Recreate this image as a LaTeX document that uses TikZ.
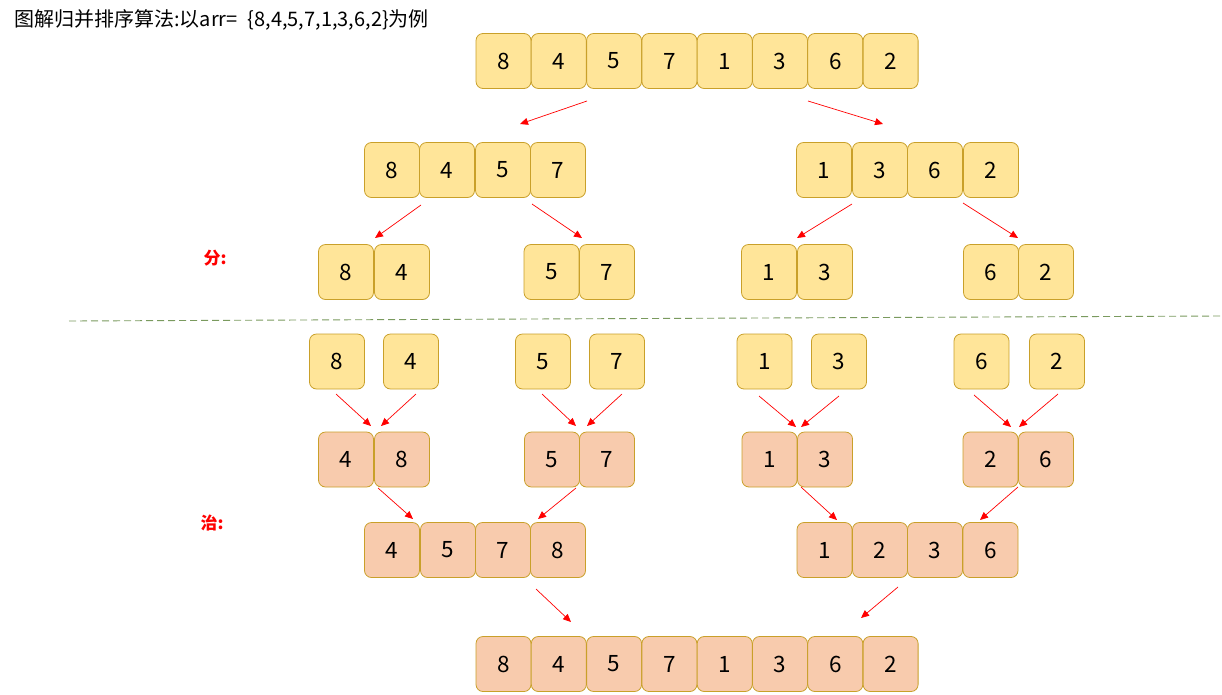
\documentclass[tikz,border=0pt]{standalone}
\usepackage{fontspec}
\setmainfont{Noto Sans CJK SC}
\usetikzlibrary{arrows.meta}
\definecolor{yfill}{HTML}{FFE599}
\definecolor{pfill}{HTML}{F8CBAD}
\definecolor{bline}{HTML}{C9A02A}
\definecolor{dline}{HTML}{7A9A5E}
\begin{document}
\begin{tikzpicture}[x=1pt,y=-1pt,
 cell/.style={draw=bline, line width=0.8pt, rounded corners=7pt, minimum width=55pt, minimum height=55pt, inner sep=0pt, font=\fontsize{22.5}{22.5}\selectfont},
 ycell/.style={cell, fill=yfill},
 pcell/.style={cell, fill=pfill},
 arr/.style={red, line width=0.7pt, -{Triangle[length=8pt,width=7pt]}},
 lbl/.style={red, font=\bfseries\fontsize{17}{17}\selectfont},
 divider/.style={dline, line width=0.9pt, dash pattern=on 7pt off 4pt}]
\useasboundingbox (0,0) rectangle (1222,694);

\node[anchor=west, font=\fontsize{20}{20}\selectfont, inner sep=0pt] (title) at (14,20) {图解归并排序算法:以arr=\hspace{0.5em}\{8,4,5,7,1,3,6,2\}为例};

% row 1
\foreach \v [count=\i] in {8,4,5,7,1,3,6,2}
  \node[ycell] (t\i) at ({503.5+55.3*(\i-1)},61) {\v};
% row 2
\foreach \v/\x [count=\i] in {8/392,4/447,5/503,7/558,1/824,3/880,6/935,2/991}
  \node[ycell] (s\i) at (\x,170) {\v};
% row 3
\foreach \v/\x [count=\i] in {8/346,4/402,5/551.5,7/607,1/769,3/825,6/991,2/1046}
  \node[ycell] (u\i) at (\x,272) {\v};
% row 4
\foreach \v/\x [count=\i] in {8/337,4/411,5/543,7/617,1/764.5,3/839,6/981.5,2/1057}
  \node[ycell] (w\i) at (\x,361.5) {\v};
% row 5
\foreach \v/\x [count=\i] in {4/346,8/402,5/552,7/607,1/769.5,3/825,2/990.5,6/1046}
  \node[pcell] (m\i) at (\x,459.5) {\v};
% row 6
\foreach \v/\x [count=\i] in {4/392,5/448,7/503,8/558,1/824.5,2/880,3/935,6/990.5}
  \node[pcell] (n\i) at (\x,550) {\v};
% row 7
\foreach \v [count=\i] in {8,4,5,7,1,3,6,2}
  \node[pcell] (b\i) at ({503.5+55.3*(\i-1)},664) {\v};

\node[lbl] (fen) at (215,258) {分:};
\node[lbl] (zhi) at (212,523) {治:};

\coordinate (dl) at (69,321);
\coordinate (dr) at (1222,316);
\draw[divider] (dl) -- (dr);

% arrow end points
\foreach \n/\xa/\ya/\xb/\yb in {
  a1/587/101/520/124, a2/808/101/883/124,
  a3/421/205/375/238, a4/532/204/582/238,
  a5/852/204/797/238, a6/963/203/1018/238,
  a7/336/394/371/426, a8/416/394/381/426,
  a9/542/394/576/426, a10/622/394/587/426,
  a11/759/396/796/427, a12/839/396/801/427,
  a13/974/395/1011/427, a14/1058/394/1019/427,
  a15/378/488/413/519, a16/576/488/538/519,
  a17/801/487/837/520, a18/1018/487/980/520,
  a19/536/589/571/622, a20/898/587/861/618}
{
  \coordinate (\n s) at (\xa,\ya);
  \coordinate (\n e) at (\xb,\yb);
  \draw[arr] (\n s) -- (\n e);
}
\end{tikzpicture}
\end{document}
